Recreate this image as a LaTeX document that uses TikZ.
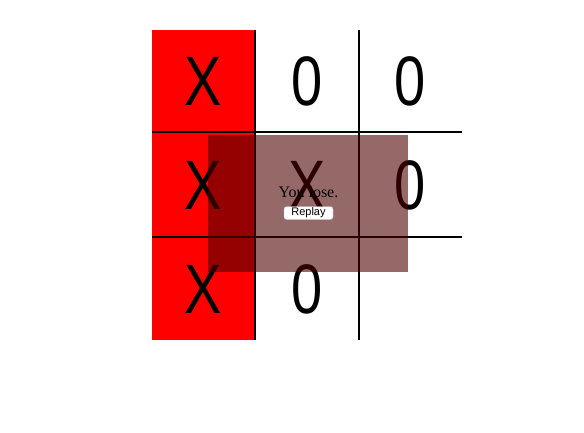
\documentclass[tikz,border=0pt]{standalone}
\usepackage{fontspec}
\setmainfont{Liberation Serif}
\newfontfamily\markfont[FakeStretch=0.8]{Liberation Sans}
\newfontfamily\btnfont{Liberation Sans}
\usepackage{tikz}

\definecolor{losecolor}{RGB}{76,0,0}

\tikzset{
  cell/.style={minimum width=103pt,minimum height=103pt,inner sep=0pt,
    font=\markfont\fontsize{70}{70}\selectfont},
  gridline/.style={line width=1.8pt,black},
}

\begin{document}
\begin{tikzpicture}[x=1pt,y=-1pt]
\useasboundingbox (0,0) rectangle (584,433);

\fill [red] (152,30) rectangle (255,340);

% marks
\node [cell] (a1) at(203.5,81){X};
\node [cell] (a2) at(307,81){0};
\node [cell] (a3) at(410.5,81){0};
\node [cell] (b1) at(203.5,185){X};
\node [cell] (b2) at(307,185){X};
\node [cell] (b3) at(410.5,185){0};
\node [cell] (c1) at(203.5,289){X};
\node [cell] (c2) at(307,289){0};

% grid
\draw [gridline] (255,30) -- (255,340);
\draw [gridline] (359,30) -- (359,340);
\draw [gridline] (152,132) -- (462,132);
\draw [gridline] (152,237) -- (462,237);

% message box
\fill [losecolor,fill opacity=0.59] (208,135) rectangle (408,272);
\node [font=\fontsize{16}{16}\selectfont,inner sep=0pt] (msg) at(308.5,192){You lose.};
\node [draw=gray!60,line width=0.3pt,fill=white,rounded corners=2.5pt,
  minimum width=49pt,minimum height=13pt,inner sep=0pt,
  font=\btnfont\fontsize{11}{11}\selectfont] (replay) at(308.5,213){Replay};
\end{tikzpicture}
\end{document}
